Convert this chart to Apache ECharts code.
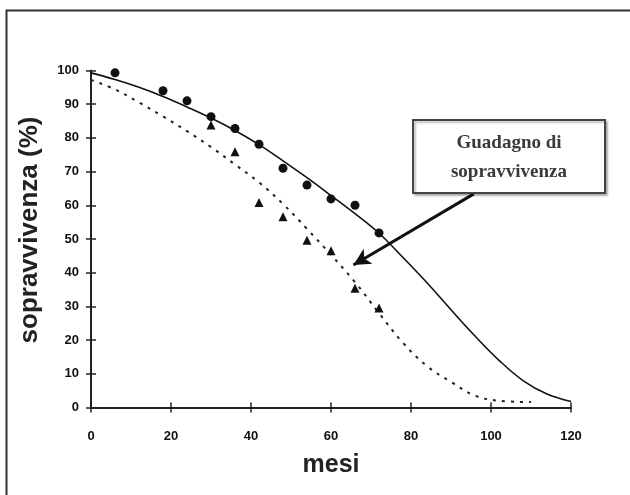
<!DOCTYPE html>
<html>
<head>
<meta charset="utf-8">
<script src="https://cdn.jsdelivr.net/npm/echarts@6/dist/echarts.min.js"></script>
<style>
  html, body { margin: 0; padding: 0; background: #fff; }
  #chart { width: 630px; height: 495px; }
</style>
</head>
<body>
<div id="chart"></div>
<script>
// mesi (x) e sopravvivenza % (y)
const xTicks = [0, 20, 40, 60, 80, 100, 120];
const yTicks = [0, 10, 20, 30, 40, 50, 60, 70, 80, 90, 100];

// curva continua
const solidX = [0, 6, 12, 18, 24, 30, 36, 42, 48, 54, 60, 66, 72, 78, 84, 90, 96, 102, 108, 114, 120];
const solidY = [99.3, 97.3, 95.0, 92.3, 89.2, 85.9, 82.2, 78.0, 73.2, 68.2, 62.9, 57.5, 51.7, 44.5, 37.0, 29.0, 21.2, 14.0, 8.0, 4.0, 1.8];

// curva tratteggiata
const dashX = [0, 6, 12, 18, 24, 30, 36, 42, 48, 54, 60, 66, 72, 78, 84, 90, 96, 102, 110];
const dashY = [97.2, 94.4, 90.5, 86.4, 82.0, 77.3, 72.1, 66.8, 60.4, 53.0, 45.3, 37.2, 28.0, 19.2, 12.3, 7.6, 3.5, 2.0, 1.6];

// punti osservati
const circleX = [6, 18, 24, 30, 36, 42, 48, 54, 60, 66, 72];
const circleY = [99.3, 94.0, 91.0, 86.3, 82.8, 78.1, 71.0, 66.0, 61.9, 60.0, 51.8];
const triX = [30, 36, 42, 48, 54, 60, 66, 72];
const triY = [83.8, 75.9, 60.8, 56.6, 49.6, 46.5, 35.4, 29.5];

// freccia "Guadagno di sopravvivenza" (coordinate dati)
const arrowFrom = [95.7, 63.4];
const arrowTo = [65.6, 42.3];

const pairs = (xs, ys) => xs.map((x, i) => [x, ys[i]]);

const chart = echarts.init(document.getElementById('chart'));

const labelStyle = { color: '#111', fontWeight: 'bold', fontSize: 13, fontFamily: 'Arial, "Liberation Sans", sans-serif' };
const lineCol = '#222';

const option = {
  animation: false,
  backgroundColor: '#fff',
  grid: { left: 91, right: 59, top: 70.5, bottom: 87.5, containLabel: false },
  xAxis: [
    {
      type: 'value', min: 0, max: 120, interval: 20,
      name: 'mesi', nameLocation: 'middle', nameGap: 45,
      nameTextStyle: { color: '#222', fontWeight: 'bold', fontSize: 25, fontFamily: 'Arial, "Liberation Sans", sans-serif' },
      axisLine: { show: true, lineStyle: { color: lineCol, width: 2 } },
      axisTick: { show: true, inside: false, length: 5, lineStyle: { color: lineCol, width: 1.5 } },
      axisLabel: Object.assign({ margin: 22, formatter: v => xTicks.includes(v) ? String(v) : '' }, labelStyle),
      splitLine: { show: false }
    },
    {
      type: 'value', min: 0, max: 120, interval: 20, position: 'bottom',
      axisLine: { show: false },
      axisTick: { show: true, inside: true, length: 5, lineStyle: { color: lineCol, width: 1.5 } },
      axisLabel: { show: false },
      splitLine: { show: false }
    }
  ],
  yAxis: [
    {
      type: 'value', min: 0, max: 100, interval: 10,
      axisLine: { show: true, lineStyle: { color: lineCol, width: 2 } },
      axisTick: { show: true, inside: false, length: 5, lineStyle: { color: lineCol, width: 1.5 } },
      axisLabel: Object.assign({ margin: 12, formatter: v => yTicks.includes(v) ? String(v) : '' }, labelStyle),
      splitLine: { show: false }
    },
    {
      type: 'value', min: 0, max: 100, interval: 10, position: 'left',
      axisLine: { show: false },
      axisTick: { show: true, inside: true, length: 5, lineStyle: { color: lineCol, width: 1.5 } },
      axisLabel: { show: false },
      splitLine: { show: false }
    }
  ],
  series: [
    {
      type: 'line', data: pairs(dashX, dashY), smooth: 0.4, showSymbol: false,
      lineStyle: { color: '#222', width: 2, type: [3, 6] }, z: 2
    },
    {
      type: 'line', data: pairs(solidX, solidY), smooth: 0.4, showSymbol: false,
      lineStyle: { color: '#111', width: 1.6 }, z: 3,
      markLine: {
        silent: true, symbol: ['none', 'arrow'], symbolSize: [13, 17],
        label: { show: false },
        lineStyle: { color: '#111', width: 3, type: 'solid' },
        data: [[{ coord: arrowFrom }, { coord: arrowTo }]]
      }
    },
    {
      type: 'scatter', data: pairs(circleX, circleY), symbol: 'circle', symbolSize: 9,
      itemStyle: { color: '#111', opacity: 1 }, z: 4
    },
    {
      type: 'scatter', data: pairs(triX, triY), symbol: 'triangle', symbolSize: 9,
      itemStyle: { color: '#111', opacity: 1 }, z: 4
    }
  ],
  graphic: [
    {
      type: 'rect', shape: { x: 6.5, y: 10.5, width: 700, height: 600 },
      style: { fill: 'none', stroke: '#333', lineWidth: 2 }, silent: true
    },
    {
      type: 'text', x: 30, y: 230, rotation: Math.PI / 2,
      style: {
        text: 'sopravvivenza (%)', fill: '#222', align: 'center', verticalAlign: 'middle',
        font: 'bold 26px Arial, "Liberation Sans", sans-serif'
      }
    },
    {
      type: 'rect', shape: { x: 413, y: 120, width: 192, height: 73 },
      style: {
        fill: '#fff', stroke: '#444', lineWidth: 2,
        shadowColor: 'rgba(0,0,0,0.25)', shadowBlur: 2, shadowOffsetX: 2, shadowOffsetY: 2
      }, z: 10
    },
    {
      type: 'text', x: 509, y: 143, z: 11,
      style: {
        text: 'Guadagno di', fill: '#3a3a3a', align: 'center', verticalAlign: 'middle',
        font: 'bold 19px "Liberation Serif", "Times New Roman", serif'
      }
    },
    {
      type: 'text', x: 509, y: 172, z: 11,
      style: {
        text: 'sopravvivenza', fill: '#3a3a3a', align: 'center', verticalAlign: 'middle',
        font: 'bold 19px "Liberation Serif", "Times New Roman", serif'
      }
    }
  ]
};

chart.setOption(option);
</script>
</body>
</html>
